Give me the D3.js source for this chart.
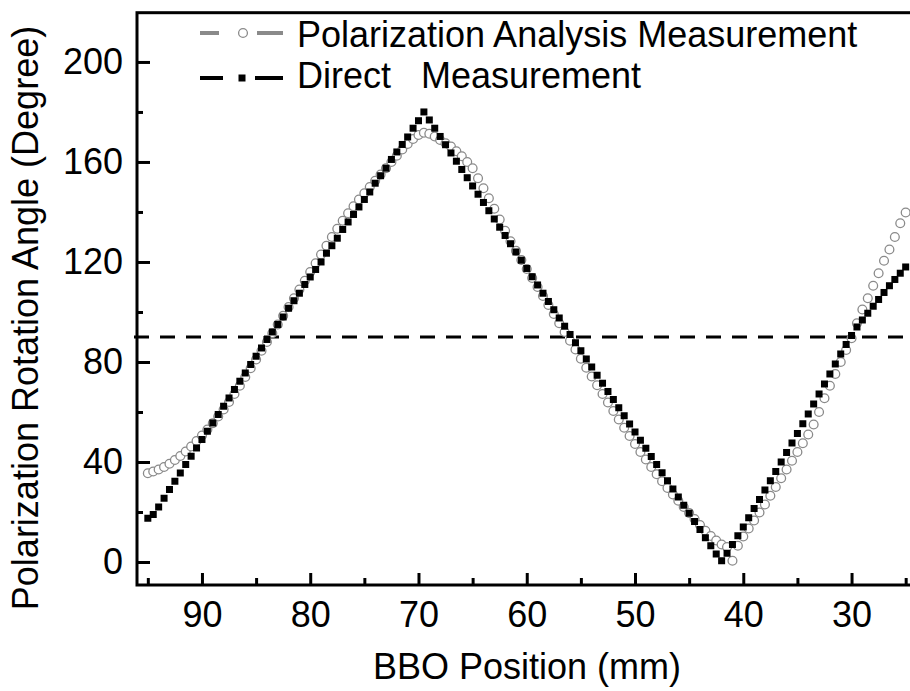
<!DOCTYPE html>
<html>
<head>
<meta charset="utf-8">
<script src="https://cdn.jsdelivr.net/npm/d3@7/dist/d3.min.js"></script>
<style>
  body { margin: 0; background: #fff; }
  text { font-family: "Liberation Sans", Arial, Helvetica, sans-serif; fill: #000; }
</style>
</head>
<body>
<svg id="chart" width="910" height="691"></svg>
<script>
// BBO position (mm), read left to right off the plot
var positions = [
  95, 94.5, 94, 93.5, 93, 92.5, 92, 91.5, 91, 90.5,
  90, 89.5, 89, 88.5, 88, 87.5, 87, 86.5, 86, 85.5,
  85, 84.5, 84, 83.5, 83, 82.5, 82, 81.5, 81, 80.5,
  80, 79.5, 79, 78.5, 78, 77.5, 77, 76.5, 76, 75.5,
  75, 74.5, 74, 73.5, 73, 72.5, 72, 71.5, 71, 70.5,
  70, 69.5, 69, 68.5, 68, 67.5, 67, 66.5, 66, 65.5,
  65, 64.5, 64, 63.5, 63, 62.5, 62, 61.5, 61, 60.5,
  60, 59.5, 59, 58.5, 58, 57.5, 57, 56.5, 56, 55.5,
  55, 54.5, 54, 53.5, 53, 52.5, 52, 51.5, 51, 50.5,
  50, 49.5, 49, 48.5, 48, 47.5, 47, 46.5, 46, 45.5,
  45, 44.5, 44, 43.5, 43, 42.5, 42, 41.5, 41, 40.5,
  40, 39.5, 39, 38.5, 38, 37.5, 37, 36.5, 36, 35.5,
  35, 34.5, 34, 33.5, 33, 32.5, 32, 31.5, 31, 30.5,
  30, 29.5, 29, 28.5, 28, 27.5, 27, 26.5, 26, 25.5,
  25
];

// polarization analysis measurement (open circles), degrees
var analysis = [
  35.5, 36.2, 37, 38, 39.3, 40.8, 42.4, 44.2, 46.2, 48.4,
  50.6, 53, 55.5, 58.2, 61, 64, 67.2, 70.5, 74, 77.5,
  81, 84.5, 88, 91.5, 95, 98.5, 102, 105.5, 109, 112.5,
  116, 119.5, 123, 126.5, 130, 133.3, 136.5, 139.5, 142.3, 145,
  147.5, 150, 152.5, 155, 157.5, 160, 162.5, 165, 167.2, 169.2,
  170.8, 171.7, 171.3, 170.2, 168.8, 167.5, 166.2, 164.3, 162.3, 160,
  157.5, 153.5, 149.5, 145.5, 141.3, 137, 132.5, 128.3, 124.5, 120.8,
  117.2, 113.6, 110, 106.4, 102.8, 99.2, 95.5, 92, 88.5, 85,
  81.3, 77.7, 74.2, 70.7, 67.2, 63.8, 60.4, 57, 53.7, 50.4,
  47.2, 44, 41, 38, 35.1, 32.3, 29.6, 27, 24.5, 22,
  19.6, 17.2, 14.8, 12.5, 10.4, 8.6, 7, 6, 0.5, 6.5,
  10.2, 13.4, 16.6, 19.8, 23, 26.5, 30, 33.5, 37, 40.5,
  44, 47.5, 51, 55, 60, 65.5, 70.5, 75.2, 80, 84.8,
  89.5, 95.5, 101, 105.5, 110.5, 115.5, 120.5, 125, 130, 135.5,
  139.8
];

// direct measurement (filled squares), degrees
var direct = [
  17.5, 19, 22, 25.5, 29, 32.3, 35.6, 39, 42.3, 45.6,
  49, 52.3, 55.6, 59, 62.3, 65.6, 69, 72.3, 75.6, 79,
  82.3, 85.6, 89, 92, 95, 98, 101.5, 104.5, 107.5, 111,
  114, 117, 120, 123.5, 126.5, 129.5, 133, 136, 139, 142,
  145, 148, 151.5, 154.5, 157.5, 161, 164, 167, 170, 173.5,
  176.5, 180, 176.8, 173.5, 170.2, 166.9, 163.6, 160.3, 157, 153.7,
  150.4, 147.1, 143.8, 140.5, 137.2, 133.9, 130.6, 127.3, 124, 120.7,
  117.4, 114.1, 110.8, 107.5, 104.2, 100.9, 97.6, 94.3, 91, 87.7,
  84.5, 81.2, 78, 74.7, 71.5, 68.2, 65, 61.7, 58.5, 55.2,
  52, 48.7, 45.5, 42.2, 39, 35.7, 32.5, 29.2, 26, 22.7,
  19.5, 16.2, 13, 9.7, 6.5, 3.2, 0.5, 3.5, 7, 10.5,
  14, 17.7, 21.4, 25, 28.8, 32.5, 36.2, 40, 43.8, 47.6,
  51.4, 55.3, 59.2, 63.2, 67.2, 71.2, 75.2, 79.2, 83.2, 87,
  90.6, 94, 96.8, 99.5, 102.3, 105, 107.8, 110.5, 113, 115.5,
  118
];

var xTicks = [90, 80, 70, 60, 50, 40, 30];
var xMinor = [95, 85, 75, 65, 55, 45, 35, 25];
var yTicks = [0, 40, 80, 120, 160, 200];
var yMinor = [20, 60, 100, 140, 180];
var refLine = 90;   // dashed horizontal reference

var legendItems = ["Polarization Analysis Measurement", "Direct   Measurement"];

// plot box (note: "top" is a reserved window prop, so prefixed names)
var pLeft = 137, pRight = 916.5, pTop = 12.7, pBottom = 585;

var x = d3.scaleLinear().domain([96, 24]).range([pLeft, pRight]);
var y = d3.scaleLinear().domain([-9.2, 219.7]).range([pBottom, pTop]);

var svg = d3.select("#chart");

var pts = positions.map(function(p, i) {
  return { pos: p, a: analysis[i], d: direct[i] };
});

// reference line at 90 deg
svg.append("line")
    .attr("x1", pLeft - 3).attr("x2", 910)
    .attr("y1", y(refLine)).attr("y2", y(refLine))
    .attr("stroke", "#000")
    .attr("stroke-width", 3)
    .attr("stroke-dasharray", "15,11");

// circles first, squares sit on top of them
svg.append("g").selectAll("circle")
    .data(pts)
  .enter().append("circle")
    .attr("cx", function(d) { return x(d.pos); })
    .attr("cy", function(d) { return y(d.a); })
    .attr("r", 4.4)
    .attr("fill", "#fff")
    .attr("stroke", "#8a8a8a")
    .attr("stroke-width", 1.3);

var sq = 7;
svg.append("g").selectAll("rect")
    .data(pts)
  .enter().append("rect")
    .attr("x", function(d) { return x(d.pos) - sq / 2; })
    .attr("y", function(d) { return y(d.d) - sq / 2; })
    .attr("width", sq)
    .attr("height", sq)
    .attr("fill", "#000");

// axes, ticks pointing inward
svg.append("g")
    .attr("transform", "translate(0," + pBottom + ")")
    .call(d3.axisBottom(x).tickValues(xTicks).tickSize(-12).tickPadding(16));
svg.append("g")
    .attr("transform", "translate(0," + pBottom + ")")
    .call(d3.axisBottom(x).tickValues(xMinor).tickSize(-7).tickFormat(""));

svg.append("g")
    .attr("transform", "translate(" + pLeft + ",0)")
    .call(d3.axisLeft(y).tickValues(yTicks).tickSize(-13).tickPadding(14));
svg.append("g")
    .attr("transform", "translate(" + pLeft + ",0)")
    .call(d3.axisLeft(y).tickValues(yMinor).tickSize(-6).tickFormat(""));

svg.selectAll(".domain").remove();
svg.selectAll(".tick line").attr("stroke", "#000").attr("stroke-width", 3);
svg.selectAll(".tick text")
    .style("font-size", "36px")
    .style("font-family", "'Liberation Sans', Arial, sans-serif")
    .attr("fill", "#000");

// frame
svg.append("rect")
    .attr("x", pLeft).attr("y", pTop)
    .attr("width", pRight - pLeft).attr("height", pBottom - pTop)
    .attr("fill", "none")
    .attr("stroke", "#000")
    .attr("stroke-width", 3);

// axis titles
svg.append("text")
    .attr("x", 527).attr("y", 679)
    .attr("text-anchor", "middle")
    .style("font-size", "36px")
    .text("BBO Position (mm)");

svg.append("text")
    .attr("transform", "translate(38,318) rotate(-90)")
    .attr("text-anchor", "middle")
    .style("font-size", "36px")
    .text("Polarization Rotation Angle (Degree)");

// legend
var lg = svg.append("g");
var rowY = [33, 78], textY = [47, 88];

lg.append("line").attr("x1", 200).attr("x2", 219).attr("y1", rowY[0]).attr("y2", rowY[0])
    .attr("stroke", "#8a8a8a").attr("stroke-width", 4);
lg.append("line").attr("x1", 257).attr("x2", 283).attr("y1", rowY[0]).attr("y2", rowY[0])
    .attr("stroke", "#8a8a8a").attr("stroke-width", 4);
lg.append("circle").attr("cx", 243).attr("cy", rowY[0]).attr("r", 4.4)
    .attr("fill", "#fff").attr("stroke", "#8a8a8a").attr("stroke-width", 1.3);

lg.append("line").attr("x1", 200).attr("x2", 223).attr("y1", rowY[1]).attr("y2", rowY[1])
    .attr("stroke", "#000").attr("stroke-width", 4);
lg.append("line").attr("x1", 255).attr("x2", 283).attr("y1", rowY[1]).attr("y2", rowY[1])
    .attr("stroke", "#000").attr("stroke-width", 4);
lg.append("rect").attr("x", 242 - 3.5).attr("y", rowY[1] - 3.5)
    .attr("width", 7).attr("height", 7).attr("fill", "#000");

lg.selectAll("text.leg")
    .data(legendItems)
  .enter().append("text")
    .attr("class", "leg")
    .attr("x", 297)
    .attr("y", function(d, i) { return textY[i]; })
    .style("font-size", "36px")
    .style("white-space", "pre")
    .text(function(d) { return d; });
</script>
</body>
</html>
